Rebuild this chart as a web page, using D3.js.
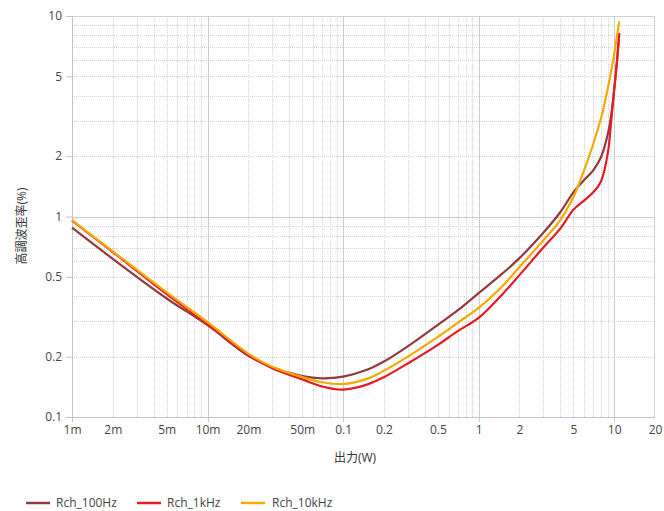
<!DOCTYPE html>
<html><head><meta charset="utf-8">
<script src="https://cdn.jsdelivr.net/npm/d3@7"></script>
<style>
body{margin:0;background:#fff;}
text{font-family:"Open Sans","Noto Sans CJK JP",sans-serif;}
</style></head>
<body><svg id="c" width="664" height="511"></svg>
<script>
const power = [0.001,0.002,0.005,0.01,0.02,0.03,0.05,0.07,0.1,0.15,0.2,0.3,0.5,0.7,1,1.5,2,3,4,5,6,7,8,9,9.5,10,10.5,10.9];
const rch100Hz = [0.88,0.615,0.39,0.287,0.202,0.177,0.16,0.156,0.159,0.172,0.189,0.225,0.288,0.34,0.415,0.52,0.62,0.83,1.05,1.32,1.52,1.7,1.98,2.6,3.2,4.3,6.0,8.2];
const rch1kHz = [0.955,0.665,0.41,0.29,0.204,0.175,0.154,0.142,0.137,0.145,0.158,0.185,0.229,0.268,0.312,0.41,0.51,0.70,0.87,1.08,1.2,1.32,1.5,2.1,3.0,4.3,6.0,8.2];
const rch10kHz = [0.96,0.67,0.418,0.297,0.207,0.178,0.158,0.149,0.146,0.155,0.17,0.2,0.251,0.295,0.35,0.45,0.56,0.76,0.96,1.25,1.7,2.3,3.1,4.4,5.3,6.5,8.0,9.4];
const seriesNames = ["Rch_100Hz","Rch_1kHz","Rch_10kHz"];
const seriesColors = ["#923a3f","#e61b23","#f5a900"];
const xTickVals = [0.001,0.002,0.005,0.01,0.02,0.05,0.1,0.2,0.5,1,2,5,10,20];
const xTickLabels = ["1m","2m","5m","10m","20m","50m","0.1","0.2","0.5","1","2","5","10","20"];
const yTickVals = [0.1,0.2,0.5,1,2,5,10];
const yTickLabels = ["0.1","0.2","0.5","1","2","5","10"];

const svg = d3.select("#c");
const L=72, R=655, T=16, B=417;
const x = d3.scaleLog().domain([0.001,20]).range([L,R]);
const y = d3.scaleLog().domain([0.1,10]).range([B,T]);

// minor grid
const minorX=[], minorY=[];
for (let d=0.001; d<20; d*=10) for (let k=2;k<=9;k++){ const v=d*k; if(v<19.9) minorX.push(v);}
for (let d=0.1; d<10; d*=10) for (let k=2;k<=9;k++) minorY.push(d*k);
const g = svg.append("g");
g.selectAll(".mx").data(minorX).join("line")
 .attr("x1",d=>Math.round(x(d))+0.5).attr("x2",d=>Math.round(x(d))+0.5).attr("y1",T).attr("y2",B)
 .attr("stroke","#d4d4d4").attr("stroke-dasharray","1,1");
g.selectAll(".my").data(minorY).join("line")
 .attr("y1",d=>Math.round(y(d))+0.5).attr("y2",d=>Math.round(y(d))+0.5).attr("x1",L).attr("x2",R)
 .attr("stroke","#d4d4d4").attr("stroke-dasharray","1,1");
// major grid
const majorX=[0.01,0.1,1,10];
g.selectAll(".Mx").data(majorX).join("line")
 .attr("x1",d=>Math.round(x(d))+0.5).attr("x2",d=>Math.round(x(d))+0.5).attr("y1",T).attr("y2",B+5)
 .attr("stroke","#cccccc");
g.append("line").attr("x1",L).attr("x2",R).attr("y1",Math.round(y(1))+0.5).attr("y2",Math.round(y(1))+0.5).attr("stroke","#cccccc");
// frame
g.append("rect").attr("x",L+0.5).attr("y",T+0.5).attr("width",R-L-1).attr("height",B-T).attr("fill","none").attr("stroke","#d0d0d0");
g.append("line").attr("x1",L+0.5).attr("x2",L+0.5).attr("y1",T).attr("y2",B+5).attr("stroke","#c4c4c4");
g.append("line").attr("x1",L-6).attr("x2",R).attr("y1",B+0.5).attr("y2",B+0.5).attr("stroke","#c4c4c4");

// axes
const xAxis = d3.axisBottom(x).tickValues(xTickVals).tickFormat((d,i)=>xTickLabels[i]).tickSize(0).tickPadding(8);
const xa = svg.append("g").attr("transform",`translate(0,${B})`).call(xAxis);
xa.select(".domain").remove();
xa.selectAll("text").attr("fill","#444").style("font-size","12px");
const yAxis = d3.axisLeft(y).tickValues(yTickVals).tickFormat((d,i)=>yTickLabels[i]).tickSize(6).tickPadding(4);
const ya = svg.append("g").attr("transform",`translate(${L},0)`).call(yAxis);
ya.select(".domain").remove();
ya.selectAll("line").attr("stroke","#c4c4c4");
ya.selectAll("text").attr("fill","#444").style("font-size","12px");

// axis titles
svg.append("text").attr("x",355).attr("y",462).attr("text-anchor","middle").attr("fill","#333").style("font-size","12px")
 .text("出力(W)");
svg.append("text").attr("transform","translate(26,226) rotate(-90)").attr("text-anchor","middle").attr("fill","#333").style("font-size","12px")
 .text("高調波歪率(%)");

// lines
const data = [rch100Hz, rch1kHz, rch10kHz];
const line = d3.line().x(d=>x(d[0])).y(d=>y(d[1])).curve(d3.curveCatmullRom.alpha(0.5));
const drawOrder=[0,1,2];
drawOrder.forEach(i=>{
  svg.append("path").datum(power.map((p,j)=>[p,data[i][j]]))
   .attr("d",line).attr("fill","none").attr("stroke",seriesColors[i]).attr("stroke-width",2.2);
});

// legend
const legX=[26,137,241], legTx=[56,167,272];
seriesNames.forEach((n,i)=>{
  svg.append("line").attr("x1",legX[i]).attr("x2",legX[i]+24).attr("y1",503).attr("y2",503).attr("stroke",seriesColors[i]).attr("stroke-width",2.5);
  svg.append("text").attr("x",legTx[i]).attr("y",507).attr("fill","#444").style("font-size","12px").text(n);
});
</script></body></html>
